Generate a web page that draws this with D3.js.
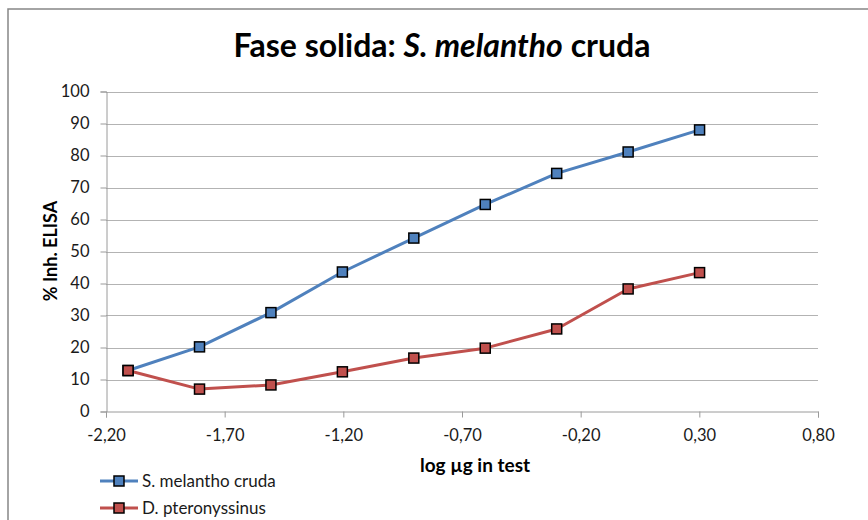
<!DOCTYPE html>
<html>
<head>
<meta charset="utf-8">
<script src="https://cdn.jsdelivr.net/npm/d3@7"></script>
<style>
  body { margin: 0; background: #fff; }
  svg { font-family: Lato, "Liberation Sans", sans-serif; }
</style>
</head>
<body>
<svg id="chart" width="868" height="520"></svg>
<script>
// log concentration (doubling dilutions)
const logDose = [-2.107, -1.806, -1.505, -1.204, -0.903, -0.602, -0.301, 0.0, 0.301];
const melanthoValues = [12.8, 20.2, 30.9, 43.6, 54.2, 64.7, 74.4, 81.1, 88.0];
const pteronyssinusValues = [12.8, 7.0, 8.3, 12.4, 16.7, 19.8, 25.8, 38.3, 43.4];
const seriesNames = ["S. melantho cruda", "D. pteronyssinus"];
const xTicks = [-2.2, -1.7, -1.2, -0.7, -0.2, 0.3, 0.8];
const yTicks = [0, 10, 20, 30, 40, 50, 60, 70, 80, 90, 100];

const colors = ["#4f81bd", "#c0504d"];
const svg = d3.select("#chart");

const x = d3.scaleLinear().domain([-2.2, 0.8]).range([106, 818]);
const y = d3.scaleLinear().domain([0, 100]).range([411.5, 91.5]);

// outer chart border
svg.append("rect")
  .attr("x", 8).attr("y", 9)
  .attr("width", 880).attr("height", 540)
  .attr("fill", "none").attr("stroke", "#868686").attr("stroke-width", 1.5);

// title
const title = svg.append("text")
  .attr("x", 442).attr("y", 57)
  .attr("text-anchor", "middle")
  .attr("font-size", 32).attr("font-weight", "bold").attr("fill", "#000");
title.append("tspan").text("Fase solida: ");
title.append("tspan").attr("font-style", "italic").text("S. melantho");
title.append("tspan").text(" cruda");

// gridlines
svg.append("g").selectAll("line").data(yTicks.filter(d => d > 0)).join("line")
  .attr("x1", x(-2.2)).attr("x2", x(0.8))
  .attr("y1", d => Math.round(y(d)) + 0.5).attr("y2", d => Math.round(y(d)) + 0.5)
  .attr("stroke", "#b3b3b3").attr("stroke-width", 1);

const fmt = d => d3.format(".2f")(d).replace("−", "-").replace(".", ",");

// y axis
const yAxis = svg.append("g")
  .attr("transform", `translate(${x(-2.2) + 0.5},0)`)
  .call(d3.axisLeft(y).tickValues(yTicks).tickSize(6).tickPadding(11).tickFormat(d3.format("d")));
yAxis.selectAll("text").attr("font-size", 16.5).attr("fill", "#1a1a1a").attr("font-family", "Lato, sans-serif");

// x axis
const xAxis = svg.append("g")
  .attr("transform", `translate(0,${y(0)})`)
  .call(d3.axisBottom(x).tickValues(xTicks).tickSize(6).tickPadding(12).tickFormat(fmt));
xAxis.selectAll("text").attr("font-size", 16.5).attr("fill", "#1a1a1a").attr("font-family", "Lato, sans-serif");

svg.selectAll(".domain, .tick line").attr("stroke", "#9a9a9a");

// axis titles
svg.append("text")
  .attr("transform", "translate(57,251) rotate(-90)")
  .attr("text-anchor", "middle")
  .attr("font-size", 18).attr("font-weight", "bold")
  .text("% Inh. ELISA");

svg.append("text")
  .attr("x", 475).attr("y", 472)
  .attr("text-anchor", "middle")
  .attr("font-size", 19).attr("font-weight", "bold")
  .text("log µg in test");

// series
const allSeries = [melanthoValues, pteronyssinusValues];
const line = d3.line().x((d, i) => x(logDose[i])).y(d => y(d));

allSeries.forEach((vals, s) => {
  svg.append("path")
    .datum(vals)
    .attr("d", line)
    .attr("fill", "none")
    .attr("stroke", colors[s]).attr("stroke-width", 3)
    .attr("stroke-linejoin", "round");
});

allSeries.forEach((vals, s) => {
  svg.append("g").selectAll("rect").data(vals).join("rect")
    .attr("x", (d, i) => x(logDose[i]) - 5)
    .attr("y", d => y(d) - 5)
    .attr("width", 10).attr("height", 10)
    .attr("fill", colors[s]).attr("stroke", "#000").attr("stroke-width", 1.5);
});

// legend
const legend = svg.append("g");
seriesNames.forEach((name, s) => {
  const ly = 481 + s * 27;
  legend.append("line")
    .attr("x1", 100).attr("x2", 138).attr("y1", ly).attr("y2", ly)
    .attr("stroke", colors[s]).attr("stroke-width", 3);
  legend.append("rect")
    .attr("x", 114).attr("y", ly - 5).attr("width", 10).attr("height", 10)
    .attr("fill", colors[s]).attr("stroke", "#000").attr("stroke-width", 1.5);
  legend.append("text")
    .attr("x", 142).attr("y", ly + 6)
    .attr("font-size", 17).attr("fill", "#1a1a1a")
    .text(name);
});
</script>
</body>
</html>
